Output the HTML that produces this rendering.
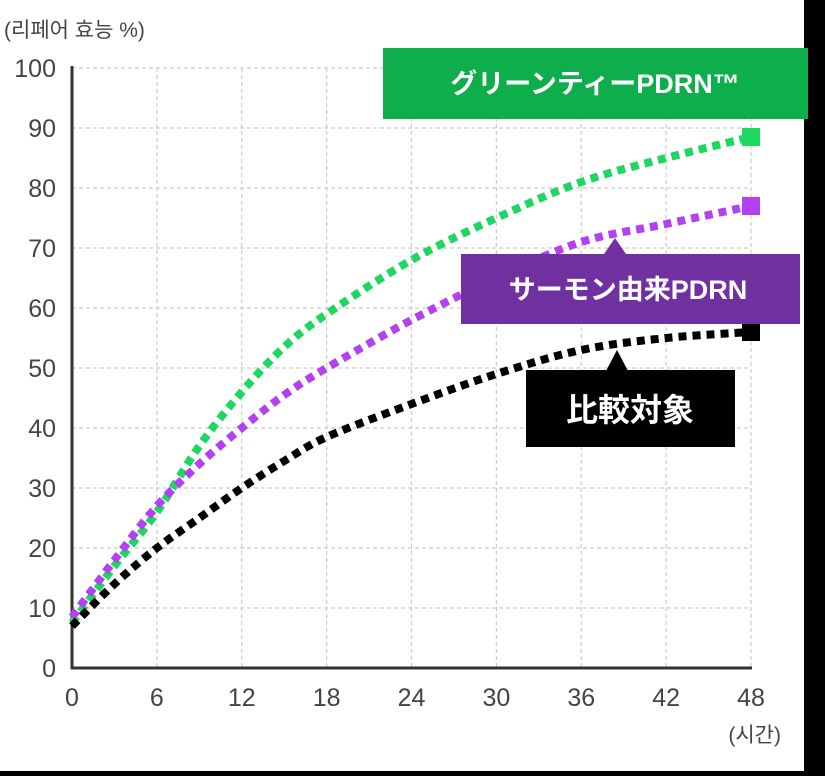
<!DOCTYPE html>
<html><head><meta charset="utf-8"><style>
html,body{margin:0;padding:0;background:#000;}
#wrap{position:relative;width:825px;height:776px;background:#000;overflow:hidden;}
svg{position:absolute;left:0;top:0;}
text{font-family:"Liberation Sans","Noto Sans CJK KR",sans-serif;}
</style></head><body>
<div id="wrap">
<svg id="chart" width="825" height="776"></svg>
</div>
<script>
const hours=[0,3,6,9,12,15,18,24,30,36,42,48];
const greenVals=[7.5,17,26,37,46,53.5,59,68,75,81,85,88.5];
const purpleVals=[8.5,18,27,34,40,45.5,50,58,65,71,74,77];
const blackVals=[7,14,20,25,30,34.5,38.5,44,49,53,55,56];
const xTicks=[0,6,12,18,24,30,36,42,48];
const yTicks=[0,10,20,30,40,50,60,70,80,90,100];
const NS="http://www.w3.org/2000/svg";
const svg=document.getElementById('chart');
const X=h=>72+h*(751-72)/48;
const Y=v=>668-v*6;
function mk(t,a,p){const e=document.createElementNS(NS,t);for(const k in a)e.setAttribute(k,a[k]);(p||svg).appendChild(e);return e;}
const bg=mk('rect',{x:0,y:0,width:805,height:771,fill:'#fff'});


yTicks.forEach(v=>{
 if(v>0){const g=mk('line',{x1:72,x2:751,y1:Y(v),y2:Y(v),stroke:'#ccc','stroke-width':1.2,'stroke-dasharray':'4 3'});
 
 }
 const t=mk('text',{x:56,y:Y(v)+9,'text-anchor':'end','font-size':25,fill:'#444'});t.textContent=v;
 
 
});
xTicks.forEach(h=>{
 if(h>0){const g=mk('line',{x1:X(h),x2:X(h),y1:Y(100),y2:668,stroke:'#ccc','stroke-width':1.2,'stroke-dasharray':'4 3'});
 
 }
 const t=mk('text',{x:X(h),y:706,'text-anchor':'middle','font-size':25,fill:'#444'});t.textContent=h;
 
 
});
const ax1=mk('line',{x1:72,x2:72,y1:66,y2:669,stroke:'#333','stroke-width':3});


const ax2=mk('line',{x1:71,x2:752,y1:668,y2:668,stroke:'#333','stroke-width':3});


const yt=mk('text',{x:4,y:37,'font-size':21,fill:'#444'});yt.textContent='(리페어 효능 %)';


const xt=mk('text',{x:781,y:742,'text-anchor':'end','font-size':21,fill:'#444'});xt.textContent='(시간)';


function path(vals){
 const p=hours.map((h,i)=>[X(h),Y(vals[i])]);
 let d='M'+p[0][0]+','+p[0][1];
 for(let i=0;i<p.length-1;i++){
  const p0=p[Math.max(0,i-1)],p1=p[i],p2=p[i+1],p3=p[Math.min(p.length-1,i+2)];
  const c1=[p1[0]+(p2[0]-p0[0])/6,p1[1]+(p2[1]-p0[1])/6],c2=[p2[0]-(p3[0]-p1[0])/6,p2[1]-(p3[1]-p1[1])/6];
  d+=' C'+c1+' '+c2+' '+p2;
 }
 return d;
}
[[greenVals,'#1ed760','series-green-tea-pdrn'],[purpleVals,'#b341f0','series-salmon-pdrn'],[blackVals,'#000','series-control']].forEach(([v,c,n])=>{
 const l=mk('path',{d:path(v),fill:'none',stroke:c,'stroke-width':8,'stroke-dasharray':'8 6'});
 
 
 const m=mk('rect',{x:X(48)-9,y:Y(v[v.length-1])-9,width:18,height:18,fill:c});
 
 
});
</script>
<svg width="825" height="776" style="position:absolute;left:0;top:0">
<rect x="804" y="0" width="21" height="776" fill="#000"/>
<rect x="0" y="771" width="825" height="5" fill="#000"/>
<g>
<rect x="383" y="48" width="425" height="71" fill="#0fae4c"/>
<text x="595" y="93" text-anchor="middle" font-size="27" font-weight="bold" fill="#fff" style="font-family:'Liberation Sans','Noto Sans CJK JP',sans-serif">グリーンティーPDRN™</text>
</g>
<g>
<polygon points="604,254 626,254 615,238" fill="#7030a0"/>
<rect x="461" y="254" width="339" height="70" fill="#7030a0"/>
<text x="628" y="299" text-anchor="middle" font-size="27" font-weight="bold" fill="#fff" style="font-family:'Liberation Sans','Noto Sans CJK JP',sans-serif">サーモン由来PDRN</text>
</g>
<g>
<polygon points="606,371 628,371 617,350" fill="#000"/>
<rect x="526" y="370" width="209" height="77" fill="#000"/>
<text x="630" y="421" text-anchor="middle" font-size="32" font-weight="bold" fill="#fff" style="font-family:'Liberation Sans','Noto Sans CJK JP',sans-serif">比較対象</text>
</g>
</svg>
</body></html>
